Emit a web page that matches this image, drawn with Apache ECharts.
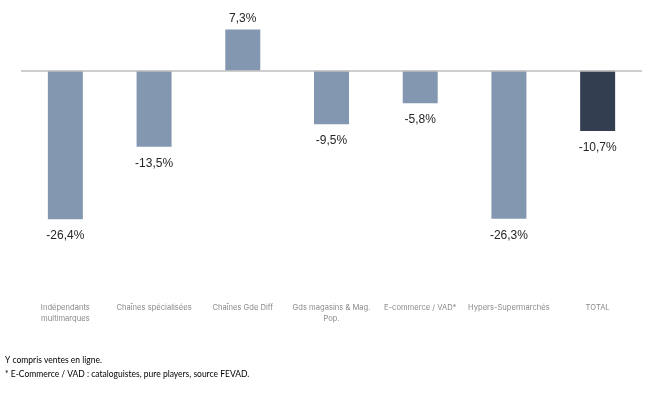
<!DOCTYPE html>
<html><head><meta charset="utf-8">
<script src="https://cdn.jsdelivr.net/npm/echarts@6/dist/echarts.min.js"></script>
<style>html,body{margin:0;padding:0;background:#fff}#c{width:658px;height:396px}</style>
</head><body><div id="c"></div>
<script>
var categories = ["Indépendants\nmultimarques", "Chaînes spécialisées", "Chaînes Gde Diff", "Gds magasins & Mag.\nPop.", "E-commerce / VAD*", "Hypers-Supermarchés", "TOTAL"];
var values = [-26.4, -13.5, 7.3, -9.5, -5.8, -26.3, -10.7];
var highlightIndex = 6;
var footnotes = ["Y compris ventes en ligne.", "* E-Commerce / VAD : cataloguistes, pure players, source FEVAD."];

var chart = echarts.init(document.getElementById('c'), null, {renderer: 'canvas'});
var data = values.map(function (v, i) {
  return {
    value: v,
    itemStyle: {color: i === highlightIndex ? '#333F50' : '#8497B0'},
    label: {position: v < 0 ? 'bottom' : 'top', distance: v < 0 ? 10.5 : 5}
  };
});
chart.setOption({
  animation: false,
  grid: {left: 21, right: 16, top: 14.4, bottom: 100.1, containLabel: false},
  xAxis: {
    type: 'category', data: categories,
    axisLine: {show: false}, axisTick: {show: false},
    axisLabel: {interval: 0, color: '#8a8a8a', fontSize: 7.6, fontFamily: 'Inter', lineHeight: 11, margin: 6.5}
  },
  yAxis: {type: 'value', min: -40, max: 10, show: false, splitLine: {show: false}},
  series: [{
    type: 'bar', data: data, barWidth: 35,
    label: {
      show: true, color: '#262626', fontSize: 12, fontFamily: 'Liberation Sans',
      formatter: function (p) { return p.value.toFixed(1).replace('.', ',') + '%'; }
    },
    markLine: {
      silent: true, symbol: 'none', label: {show: false},
      lineStyle: {color: '#BFBFBF', width: 1.5, type: 'solid'},
      data: [{yAxis: 0}]
    }
  }],
  graphic: footnotes.map(function (t, i) {
    return {type: 'text', left: 5, top: 355.5 + i * 14, style: {text: t, fill: '#000', font: '8.5px Lato'}};
  })
});
</script></body></html>
